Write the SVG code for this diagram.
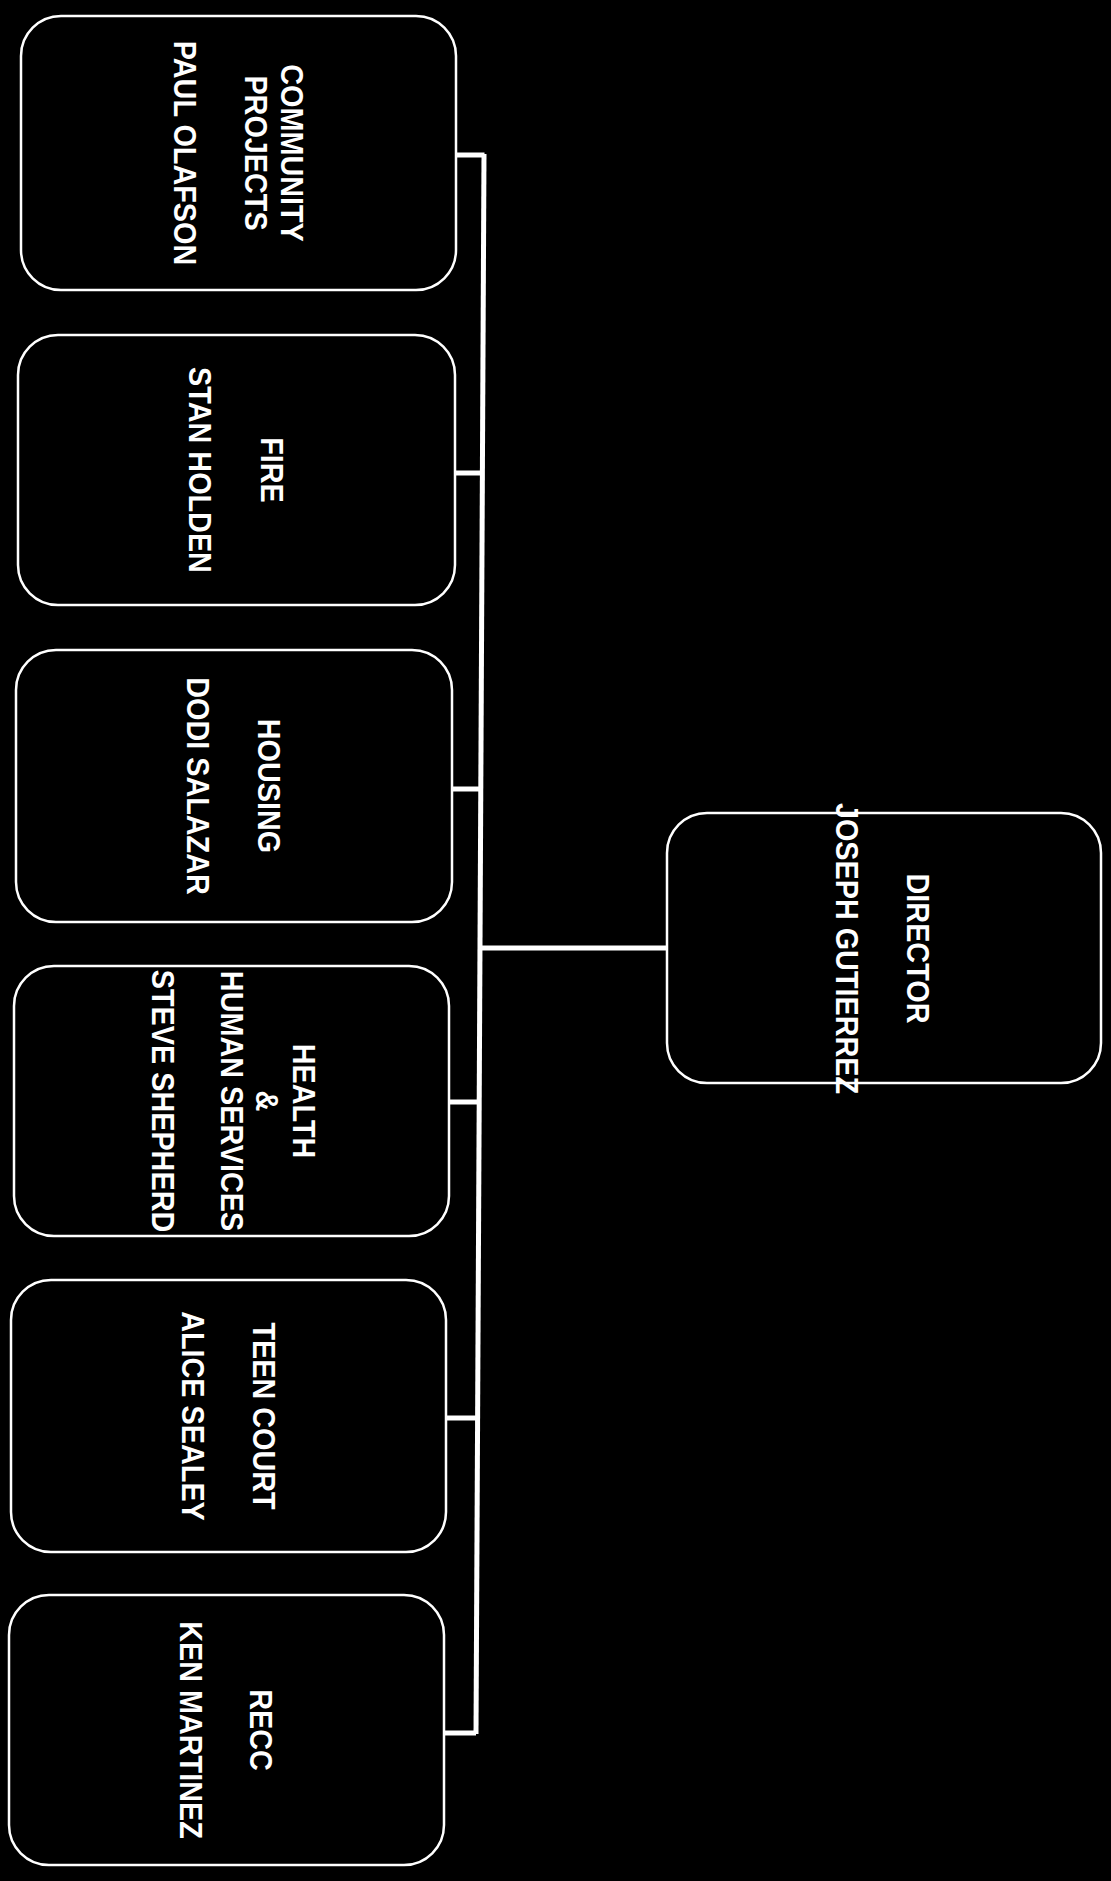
<svg xmlns="http://www.w3.org/2000/svg" width="1111" height="1881" viewBox="0 0 1111 1881">
<style>
.bg{fill:#000}
.box{fill:none;stroke:#fff;stroke-width:2.5}
.conn{fill:none;stroke:#fff;stroke-width:5}
.t{fill:#fff;font-family:"Liberation Sans",Arial,sans-serif;font-weight:bold;font-size:32px;text-anchor:middle}
</style>
<rect class="bg" x="0" y="0" width="1111" height="1881"/>
<g id="connectors">
<path class="conn" d="M484,154 L476,1734"/>
<path class="conn" d="M456,155 H484.5"/>
<path class="conn" d="M455,473 H482.5"/>
<path class="conn" d="M452,789 H481"/>
<path class="conn" d="M449,1102 H479"/>
<path class="conn" d="M446,1418 H478"/>
<path class="conn" d="M444,1733 H476"/>
<path class="conn" d="M480,948 H667"/>
</g>
<g id="community-projects">
<rect class="box" x="21" y="16" width="435" height="274" rx="40"/>
<g transform="translate(239,153) rotate(90) scale(0.9,1)">
<text class="t" x="0" y="-42.5">COMMUNITY</text>
<text class="t" x="0" y="-6.5">PROJECTS</text>
<text class="t" x="0" y="65.5">PAUL OLAFSON</text>
</g>
</g>
<g id="fire">
<rect class="box" x="18" y="335" width="437" height="270" rx="40"/>
<g transform="translate(236.5,470) rotate(90) scale(0.9,1)">
<text class="t" x="0" y="-24.5">FIRE</text>
<text class="t" x="0" y="47.5">STAN HOLDEN</text>
</g>
</g>
<g id="housing">
<rect class="box" x="16" y="650" width="436" height="272" rx="40"/>
<g transform="translate(234,786) rotate(90) scale(0.9,1)">
<text class="t" x="0" y="-24.5">HOUSING</text>
<text class="t" x="0" y="47.5">DODI SALAZAR</text>
</g>
</g>
<g id="health">
<rect class="box" x="14" y="966" width="435" height="270" rx="40"/>
<g transform="translate(231.5,1101) rotate(90) scale(0.9,1)">
<text class="t" x="0" y="-61.5">HEALTH</text>
<text class="t" x="0" y="-24.5">&amp;</text>
<text class="t" x="0" y="10.5">HUMAN SERVICES</text>
<text class="t" x="0" y="79.5">STEVE SHEPHERD</text>
</g>
</g>
<g id="teen-court">
<rect class="box" x="11" y="1280" width="435" height="272" rx="40"/>
<g transform="translate(228.5,1416) rotate(90) scale(0.9,1)">
<text class="t" x="0" y="-24.5">TEEN COURT</text>
<text class="t" x="0" y="46.5">ALICE SEALEY</text>
</g>
</g>
<g id="recc">
<rect class="box" x="9" y="1595" width="435" height="270" rx="40"/>
<g transform="translate(226.5,1730) rotate(90) scale(0.9,1)">
<text class="t" x="0" y="-23.5">RECC</text>
<text class="t" x="0" y="46.5">KEN MARTINEZ</text>
</g>
</g>
<g id="director">
<rect class="box" x="667" y="813" width="434" height="270" rx="40"/>
<g transform="translate(883.5,948.5) rotate(90) scale(0.9,1)">
<text class="t" x="0" y="-23.5">DIRECTOR</text>
<text class="t" x="0" y="47.5">JOSEPH GUTIERREZ</text>
</g>
</g>
</svg>
